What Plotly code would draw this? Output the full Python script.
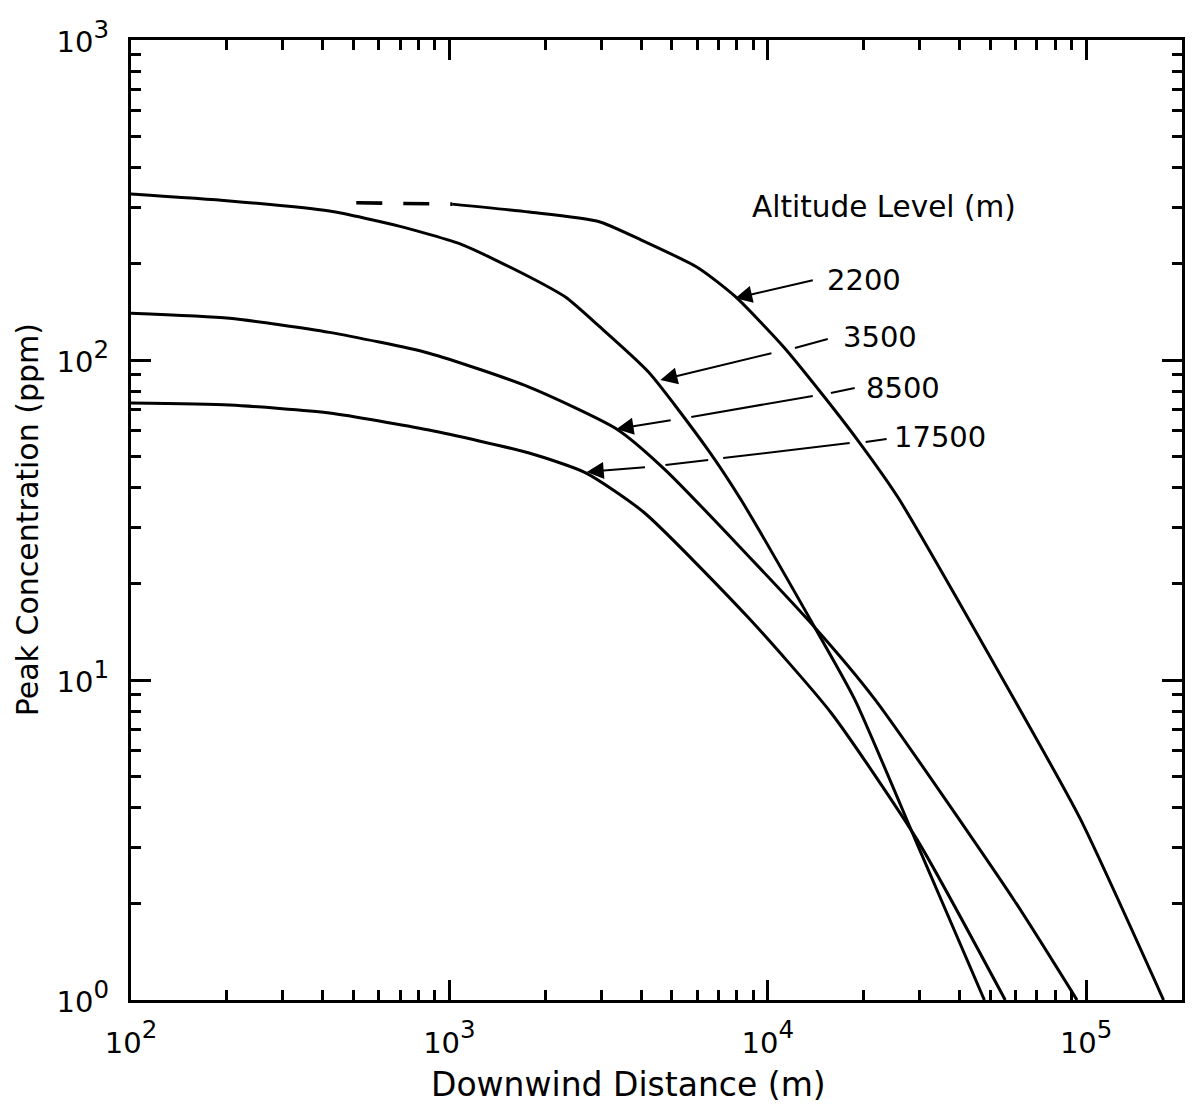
import numpy as np
import plotly.graph_objects as go

# Peak concentration (ppm) versus downwind distance (m) for four release altitudes
dist_2200_dashed = [510, 1020]
conc_2200_dashed = [310, 307]

dist_2200 = [1020, 1780, 2940, 4010, 6050, 7900, 11200, 14700, 19200, 25600, 59400, 95600, 175000]
conc_2200 = [307, 290, 271, 237, 194, 158, 110, 79, 56, 37.3, 8.7, 3.7, 1.0]

dist_3500 = [100, 204, 420, 695, 1100, 1780, 2320, 2940, 4220, 6500, 8250, 14050, 18750, 29100, 35100, 47900]
conc_3500 = [330, 314, 292, 262, 229, 182, 157, 128, 91.7, 52.3, 36.5, 14.6, 8.7, 3.16, 2.05, 1.0]

dist_8500 = [100, 204, 420, 863, 1780, 3350, 4770, 14050, 21700, 59400, 93600]
conc_8500 = [140, 135, 122, 105, 82.3, 60.9, 45.3, 14.6, 8.7, 2.05, 1.0]

dist_17500 = [100, 204, 420, 863, 1780, 2680, 4070, 8670, 15800, 29500, 55700]
conc_17500 = [73.4, 72.3, 68.3, 60.4, 51.2, 44.4, 33.5, 15.7, 7.9, 3.16, 1.0]

altitude_labels = ["2200", "3500", "8500", "17500"]

# "10" in a fixed size, exponent taken from the (larger) tick font at 70 %
TICK_TEXT = '<span style="font-size:29px">10</span><sup>{}</sup>'
x_major = [1e2, 1e3, 1e4, 1e5]
x_major_text = [TICK_TEXT.format(k) for k in (2, 3, 4, 5)]
y_major = [1, 10, 100, 1000]
y_major_text = [TICK_TEXT.format(k) for k in (0, 1, 2, 3)]

x_minor = [m * 10 ** k for k in range(2, 6) for m in range(2, 10)]
y_minor = [m * 10 ** k for k in range(0, 3) for m in range(2, 10)]

X_RANGE = [2, np.log10(2e5)]
Y_RANGE = [0, 3]
FONT = "DejaVu Sans"
INK = "black"

fig = go.Figure()

line_style = dict(color=INK, width=3, shape="spline", smoothing=0.6)
for xs, ys in [(dist_2200, conc_2200), (dist_3500, conc_3500),
               (dist_8500, conc_8500), (dist_17500, conc_17500)]:
    fig.add_trace(go.Scatter(x=xs, y=ys, mode="lines", line=line_style,
                             hoverinfo="skip", showlegend=False))
fig.add_trace(go.Scatter(x=dist_2200_dashed, y=conc_2200_dashed, mode="lines",
                         line=dict(color=INK, width=3.6, dash="26px,21px"),
                         hoverinfo="skip", showlegend=False))

# Leader lines from each altitude label to its curve, broken where they pass other curves.
# Each entry: plain segments as (distance, ppm) pairs, then the arrow as (tail, tip).
leaders = {
    "2200": dict(segments=[],
                 arrow=((14000, 178), (7900, 156))),
    "3500": dict(segments=[((15430, 116.3), (12170, 109.0))],
                 arrow=((10380, 105.2), (4600, 86.6))),
    "8500": dict(segments=[((18750, 81.8), (15780, 78.9)),
                           ((13850, 77.2), (5750, 66.4))],
                 arrow=((5010, 64.9), (3350, 60.9))),
    "17500": dict(segments=[((23620, 56.6), (20290, 55.4)),
                            ((18080, 55.0), (7240, 49.4)),
                            ((6500, 48.7), (4770, 47.0))],
                  arrow=((4160, 46.3), (2700, 44.7))),
}
label_anchor = {
    "2200": (15100, 178),
    "3500": (16950, 118),
    "8500": (20000, 81.8),
    "17500": (24600, 57.4),
}

lg = np.log10
for name in altitude_labels:
    spec = leaders[name]
    for (xa, ya), (xb, yb) in spec["segments"]:
        fig.add_shape(type="line", xref="x", yref="y",
                      x0=xa, y0=ya, x1=xb, y1=yb,
                      line=dict(color=INK, width=2))
    (xt, yt), (xh, yh) = spec["arrow"]
    fig.add_annotation(x=lg(xh), y=lg(yh), ax=lg(xt), ay=lg(yt),
                       xref="x", yref="y", axref="x", ayref="y",
                       text="", showarrow=True, arrowhead=2, arrowsize=1.7,
                       arrowwidth=2, arrowcolor=INK, standoff=0)
    lx, ly = label_anchor[name]
    fig.add_annotation(x=lg(lx), y=lg(ly), xref="x", yref="y", text=name,
                       showarrow=False, xanchor="left", yanchor="middle",
                       font=dict(family=FONT, size=29, color=INK))

fig.add_annotation(x=lg(8800), y=lg(300), xref="x", yref="y",
                   text="Altitude Level (m)", showarrow=False,
                   xanchor="left", yanchor="middle",
                   font=dict(family=FONT, size=29.5, color=INK))

# Axis titles
fig.add_annotation(x=0.4734, y=-0.0875, xref="paper", yref="paper",
                   text="Downwind Distance (m)", showarrow=False,
                   xanchor="center", yanchor="middle",
                   font=dict(family=FONT, size=33, color=INK))
fig.add_annotation(x=-0.0987, y=0.5, xref="paper", yref="paper",
                   text="Peak Concentration (ppm)", showarrow=False,
                   textangle=-90, xanchor="center", yanchor="middle",
                   font=dict(family=FONT, size=30, color=INK))

axis_common = dict(showgrid=False, zeroline=False, color=INK)
tick_font = dict(family=FONT, size=35, color=INK)

fig.update_layout(
    width=1193, height=1107,
    margin=dict(l=131, r=8, t=40, b=107),
    paper_bgcolor="white", plot_bgcolor="white",
    showlegend=False,
    font=dict(family=FONT, color=INK),
    xaxis=dict(
        type="log", range=X_RANGE, showline=True, linecolor=INK, linewidth=3,
        mirror="ticks", ticks="inside", ticklen=20, tickwidth=3, tickcolor=INK,
        tickvals=x_major, ticktext=x_major_text, ticklabelstandoff=8,
        tickfont=tick_font,
        minor=dict(ticks="inside", ticklen=10, tickwidth=2.5, tickcolor=INK,
                   tickvals=x_minor, showgrid=False),
        **axis_common,
    ),
    xaxis2=dict(
        type="log", range=X_RANGE, overlaying="x", anchor="y", side="bottom",
        ticks="outside", ticklen=13, tickwidth=3, tickcolor=INK,
        tickvals=x_major, showticklabels=False, showline=False,
        **axis_common,
    ),
    yaxis=dict(
        type="log", range=Y_RANGE, showline=True, linecolor=INK, linewidth=3,
        mirror="ticks", ticks="inside", ticklen=20, tickwidth=3, tickcolor=INK,
        tickvals=y_major, ticktext=y_major_text, ticklabelstandoff=12,
        tickfont=tick_font,
        minor=dict(ticks="inside", ticklen=10, tickwidth=2.5, tickcolor=INK,
                   tickvals=y_minor, showgrid=False),
        **axis_common,
    ),
    yaxis2=dict(
        type="log", range=Y_RANGE, overlaying="y", anchor="x", side="left",
        ticks="outside", ticklen=14, tickwidth=3, tickcolor=INK,
        tickvals=y_major, showticklabels=False, showline=False,
        **axis_common,
    ),
)

fig.write_html("out.html")
